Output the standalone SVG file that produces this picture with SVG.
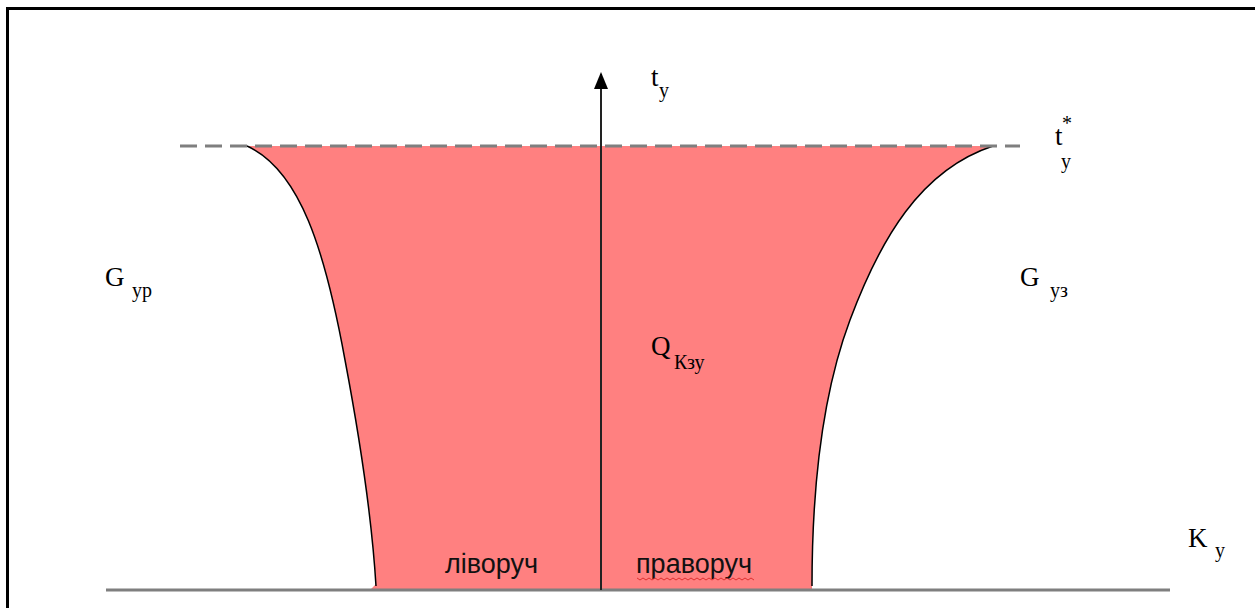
<svg xmlns="http://www.w3.org/2000/svg" width="1255" height="608" viewBox="0 0 1255 608">
<style>
.lbl{font-family:"Liberation Serif",serif;fill:#000}
.big{font-size:27px}
.sub{font-size:20px}
.word{font-family:"Liberation Sans",Arial,sans-serif;font-size:27px;fill:#111}
</style>
<defs>
<marker id="arr" markerWidth="14" markerHeight="17" refX="7" refY="2" orient="0" markerUnits="userSpaceOnUse" viewBox="0 0 14 17">
<path d="M7,0 L14,17 L0,17 Z" fill="#000"/>
</marker>
</defs>
<rect width="1255" height="608" fill="#fff"/>
<path d="M7.5,612 V8.5 H1260" fill="none" stroke="#000" stroke-width="3"/>
<g id="region">
<path d="M247,146 C300,170 325,250 345,360 C362,450 372,520 376,584 L370,590 L812,590 C812,500 820,400 850,320 C880,240 920,170 993,146 Z" fill="#ff8080"/>
<path d="M247,146 C300,170 325,250 345,360 C362,450 372,520 376,586" fill="none" stroke="#000" stroke-width="1.5"/>
<path d="M993,146 C920,170 880,240 850,320 C820,400 812,500 812,586" fill="none" stroke="#000" stroke-width="1.5"/>
</g>
<g id="connectors">
<line x1="106" y1="590" x2="1170" y2="590" stroke="#7f7f7f" stroke-width="3"/>
<line x1="180" y1="146" x2="1020" y2="146" stroke="#7f7f7f" stroke-width="3" stroke-dasharray="17,8"/>
<line x1="601" y1="590" x2="601" y2="74" stroke="#222" stroke-width="2" marker-end="url(#arr)"/>
</g>
<g id="label-ty"><text class="lbl big" x="651" y="86">t</text><text class="lbl sub" x="659" y="97">у</text></g>
<g id="label-tstar"><text class="lbl big" x="1055" y="145">t</text><text class="lbl sub" x="1062" y="130">*</text><text class="lbl sub" x="1061" y="168">у</text></g>
<g id="label-gyp"><text class="lbl big" x="105" y="286">G</text><text class="lbl sub" x="132" y="297">ур</text></g>
<g id="label-gyz"><text class="lbl big" x="1020" y="286">G</text><text class="lbl sub" x="1050" y="297">уз</text></g>
<g id="label-q"><text class="lbl big" x="651" y="355">Q</text><text class="lbl sub" x="674" y="369">Кзу</text></g>
<g id="label-k"><text class="lbl big" x="1188" y="547">K</text><text class="lbl sub" x="1215" y="557">у</text></g>
<g id="label-left"><text class="word" x="445" y="573">ліворуч</text></g>
<g id="label-right"><text class="word" x="636" y="573">праворуч</text>
<path d="M637,578 l3,2 l3,-2 l3,2 l3,-2 l3,2 l3,-2 l3,2 l3,-2 l3,2 l3,-2 l3,2 l3,-2 l3,2 l3,-2 l3,2 l3,-2 l3,2 l3,-2 l3,2 l3,-2 l3,2 l3,-2 l3,2 l3,-2 l3,2 l3,-2 l3,2 l3,-2 l3,2 l3,-2 l3,2 l3,-2 l3,2 l3,-2 l3,2 l3,-2 l3,2 l3,-2 l3,2" fill="none" stroke="#e03030" stroke-width="1"/></g>
</svg>
